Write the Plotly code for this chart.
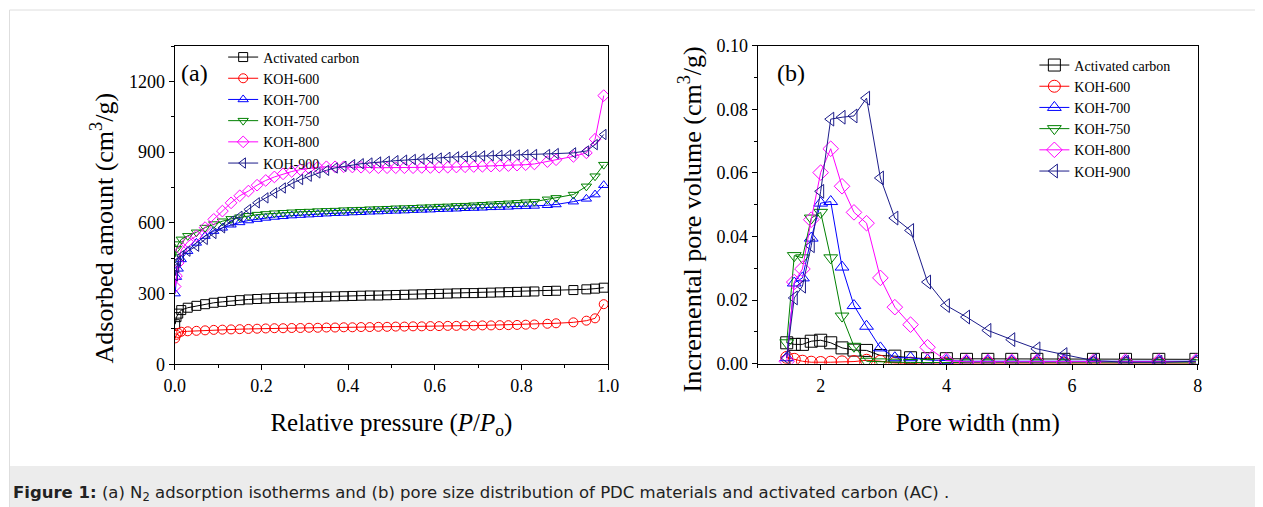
import plotly.graph_objects as go

W, H = 1263, 507

# ---------------- Panel (a): N2 adsorption isotherms ----------------
p_rel = [0.001, 0.004, 0.008, 0.015, 0.03,
         0.05, 0.07, 0.09, 0.11, 0.13, 0.15, 0.17, 0.19, 0.21, 0.23,
         0.25, 0.27, 0.29, 0.31, 0.33, 0.35, 0.37, 0.39, 0.41, 0.43,
         0.45, 0.47, 0.49, 0.51, 0.53, 0.55, 0.57, 0.59, 0.61, 0.63,
         0.65, 0.67, 0.69, 0.71, 0.73, 0.75, 0.77, 0.79, 0.81, 0.83,
         0.86, 0.88, 0.92, 0.95, 0.97, 0.99]

ads_ac = [170, 200, 215, 230, 240,
          248, 255, 261, 265, 269, 272, 275, 277, 279, 281,
          282, 283, 284, 285, 286, 287, 288, 289, 290, 291,
          292, 292, 293, 294, 295, 296, 297, 298, 299, 300,
          301, 302, 302, 303, 304, 305, 306, 307, 308, 309,
          311, 312, 315, 318, 321, 325]
ads_600 = [110, 125, 133, 138, 140,
           142, 144, 146, 147, 148, 149, 150, 151, 152, 153,
           153, 154, 154, 155, 155, 156, 156, 157, 157, 158,
           158, 159, 159, 160, 160, 161, 161, 162, 162, 163,
           163, 164, 164, 165, 165, 166, 166, 167, 168, 169,
           172, 174, 178, 185, 195, 255]
ads_700 = [300, 370, 405, 445, 480,
           515, 544, 565, 579, 592, 602, 610, 616, 621, 625,
           628, 631, 633, 635, 637, 639, 641, 642, 644, 645,
           647, 648, 650, 651, 652, 654, 655, 656, 658, 659,
           660, 662, 663, 664, 666, 667, 668, 670, 671, 672,
           675, 678, 690, 702, 720, 760]
ads_750 = [455, 490, 510, 530, 545,
           560, 580, 595, 607, 617, 624, 630, 635, 638, 641,
           643, 645, 647, 648, 650, 651, 652, 654, 655, 656,
           658, 659, 660, 662, 663, 664, 666, 667, 669, 670,
           672, 673, 675, 677, 679, 681, 683, 685, 688, 690,
           700, 706, 720, 755, 798, 847]
ads_800 = [330, 375, 430, 485, 520,
           545, 580, 615, 650, 685, 715, 735, 760, 780, 795,
           808, 818, 826, 832, 836, 838, 838, 838, 837, 836,
           835, 834, 834, 834, 834, 834, 835, 835, 836, 836,
           837, 838, 839, 840, 841, 842, 843, 845, 847, 850,
           860, 868, 882, 897, 955, 1140]
ads_900 = [375, 410, 438, 460, 480,
           501, 530, 555, 579, 607, 628, 657, 685, 706, 727,
           748, 767, 784, 798, 812, 823, 833, 840, 847, 851,
           854, 858, 861, 864, 866, 869, 871, 873, 875, 878,
           880, 881, 882, 884, 885, 886, 887, 888, 889, 890,
           890, 894, 897, 905, 932, 975]

# ---------------- Panel (b): pore size distribution ----------------
pore_w = [1.46, 1.58, 1.71, 1.85, 2.00, 2.16, 2.34, 2.53, 2.73, 2.95, 3.18,
          3.43, 3.70, 4.00, 4.32, 4.66, 5.04, 5.44, 5.87, 6.34, 6.85, 7.38, 7.97]

psd_ac = [0.0066, 0.0061, 0.0061, 0.0071, 0.0074, 0.0066, 0.0050, 0.0043, 0.0042,
          0.0026, 0.0024, 0.0019, 0.0016, 0.0016, 0.0014, 0.0014, 0.0014, 0.0014,
          0.0014, 0.0014, 0.0014, 0.0014, 0.0014]
psd_600 = [0.0020, 0.0014, 0.0008, 0.0005, 0.0004, 0.0005, 0.0006, 0.0007, 0.0011,
           0.0008, 0.0002, 0.0002, 0.0002, 0.0002, 0.0002, 0.0002, 0.0002, 0.0002,
           0.0002, 0.0002, 0.0002, 0.0002, 0.0002]
psd_700 = [0.0019, 0.0254, 0.0270, 0.0395, 0.0505, 0.0510, 0.0304, 0.0183, 0.0118,
           0.0050, 0.0019, 0.0019, 0.0012, 0.0010, 0.0008, 0.0008, 0.0008, 0.0008,
           0.0008, 0.0006, 0.0008, 0.0008, 0.0008]
psd_750 = [0.0066, 0.0340, 0.0333, 0.0458, 0.0476, 0.0333, 0.0150, 0.0055, 0.0008,
           0.0006, 0.0005, 0.0004, 0.0004, 0.0004, 0.0003, 0.0003, 0.0003, 0.0003,
           0.0003, 0.0003, 0.0003, 0.0003, 0.0003]
psd_800 = [0.0008, 0.0257, 0.0298, 0.0453, 0.0601, 0.0676, 0.0558, 0.0476, 0.0442,
           0.0270, 0.0178, 0.0123, 0.0052, 0.0010, 0.0006, 0.0006, 0.0006, 0.0006,
           0.0006, 0.0006, 0.0007, 0.0007, 0.0007]
psd_900 = [0.0019, 0.0207, 0.0244, 0.0371, 0.0542, 0.0769, 0.0775, 0.0779, 0.0835,
           0.0584, 0.0458, 0.0419, 0.0257, 0.0183, 0.0147, 0.0105, 0.0076, 0.0047,
           0.0029, 0.0010, 0.0005, 0.0005, 0.0008]

series_names = ["Activated carbon", "KOH-600", "KOH-700", "KOH-750", "KOH-800", "KOH-900"]
colors = ["#000000", "#ff0000", "#0000ff", "#008000", "#ff00ff", "#1c1c8a"]
symbols = ["square-open", "circle-open", "triangle-up-open", "triangle-down-open",
           "diamond-open", "triangle-left-open"]
iso_data = [ads_ac, ads_600, ads_700, ads_750, ads_800, ads_900]
psd_data = [psd_ac, psd_600, psd_700, psd_750, psd_800, psd_900]

SERIF = "Liberation Serif, Times New Roman, serif"

# effective on-screen frame of the figure (measured), used to convert target
# screen pixels into paper fractions
OX, OY, FW, FH = 17.0, 18.0, 1243.0, 488.0


def fx(sx):
    return (sx - OX) / FW


def fy(sy):
    return 1 - (sy - OY) / FH


fig = go.Figure()

for name, c, s, ys in zip(series_names, colors, symbols, iso_data):
    fig.add_trace(go.Scatter(
        x=p_rel, y=ys, name=name, mode="lines+markers",
        line=dict(color=c, width=1),
        marker=dict(symbol=s, size=9, color=c, line=dict(color=c, width=1)),
        xaxis="x", yaxis="y", legend="legend"))

for name, c, s, ys in zip(series_names, colors, symbols, psd_data):
    fig.add_trace(go.Scatter(
        x=pore_w, y=ys, name=name, mode="lines+markers",
        line=dict(color=c, width=1),
        marker=dict(symbol=s, size=12, color=c, line=dict(color=c, width=1)),
        xaxis="x2", yaxis="y2", legend="legend2"))

axis_common = dict(
    showline=True, linecolor="black", linewidth=1.3, mirror=True,
    ticks="outside", ticklen=5, tickwidth=1.2, tickcolor="black",
    showgrid=False, zeroline=False,
    tickfont=dict(family=SERIF, size=18, color="black"),
)

TITLE_FONT = dict(family=SERIF, size=25, color="black")
YTITLE_FONT = dict(family=SERIF, size=26, color="black")
LEGEND_FONT = dict(family=SERIF, size=14, color="black")

fig.update_layout(
    width=W, height=H,
    margin=dict(l=0, r=0, t=0, b=0),
    paper_bgcolor="white", plot_bgcolor="white",
    font=dict(family=SERIF, color="black"),
    xaxis=dict(domain=[fx(173), fx(607)], range=[0, 1], dtick=0.2, tickformat=".1f",
               minor=dict(ticks="outside", ticklen=3, dtick=0.1, tickcolor="black"),
               title=dict(text="Relative pressure (<i>P</i>/<i>P</i><sub>o</sub>)",
                          font=TITLE_FONT, standoff=18),
               anchor="y", **axis_common),
    yaxis=dict(domain=[fy(365), fy(45.7)], range=[0, 1352], dtick=300,
               minor=dict(ticks="outside", ticklen=3, dtick=150, tickcolor="black"),
               anchor="x", **axis_common),
    xaxis2=dict(domain=[fx(757), fx(1197.7)], range=[1, 8], dtick=2, tick0=0,
                minor=dict(ticks="outside", ticklen=3, dtick=1, tickcolor="black"),
                title=dict(text="Pore width (nm)", font=TITLE_FONT, standoff=18),
                anchor="y2", **axis_common),
    yaxis2=dict(domain=[fy(364.5), fy(45.7)], range=[0, 0.1], dtick=0.02, tickformat=".2f",
                minor=dict(ticks="outside", ticklen=3, dtick=0.01, tickcolor="black"),
                anchor="x2", **axis_common),
    legend=dict(x=fx(221.5), y=fy(41.5), xanchor="left", yanchor="top",
                bgcolor="rgba(0,0,0,0)", font=LEGEND_FONT,
                tracegroupgap=0, borderwidth=0),
    legend2=dict(x=fx(1034), y=fy(49.5), xanchor="left", yanchor="top",
                 bgcolor="rgba(0,0,0,0)", font=LEGEND_FONT,
                 tracegroupgap=0, borderwidth=0),
    showlegend=True,
)

# y-axis titles (placed to match the reference's lowered centring)
fig.add_annotation(text="Adsorbed amount (cm<sup>3</sup>/g)", textangle=-90,
                   x=fx(101), y=fy(228), xref="paper", yref="paper",
                   xanchor="center", yanchor="middle", showarrow=False, font=YTITLE_FONT)
fig.add_annotation(text="Incremental pore volume (cm<sup>3</sup>/g)", textangle=-90,
                   x=fx(690), y=fy(220), xref="paper", yref="paper",
                   xanchor="center", yanchor="middle", showarrow=False, font=YTITLE_FONT)

# panel labels
fig.add_annotation(text="(a)", x=fx(193), y=fy(73), xref="paper", yref="paper",
                   xanchor="center", yanchor="middle",
                   showarrow=False, font=dict(family=SERIF, size=24, color="black"))
fig.add_annotation(text="(b)", x=fx(790), y=fy(73), xref="paper", yref="paper",
                   xanchor="center", yanchor="middle",
                   showarrow=False, font=dict(family=SERIF, size=24, color="black"))

# page frame and caption box
fig.add_shape(type="rect", xref="paper", yref="paper",
              x0=fx(7.5), x1=fx(1256.5), y0=fy(512), y1=fy(10),
              line=dict(color="#dedede", width=1), fillcolor="rgba(0,0,0,0)", layer="below")
fig.add_shape(type="rect", xref="paper", yref="paper",
              x0=fx(8), x1=fx(1256), y0=fy(512), y1=fy(467),
              line=dict(width=0), fillcolor="#ececec", layer="below")
fig.add_annotation(
    text="<b>Figure 1:</b> (a) N<sub>2</sub> adsorption isotherms and (b) pore size distribution "
         "of PDC materials and activated carbon (AC) .",
    x=fx(9), y=fy(494), xref="paper", yref="paper", xanchor="left", yanchor="middle",
    showarrow=False, font=dict(family="DejaVu Sans, Liberation Sans, Arial, sans-serif",
                               size=16.5, color="#222222"))

fig.write_html("out.html")
